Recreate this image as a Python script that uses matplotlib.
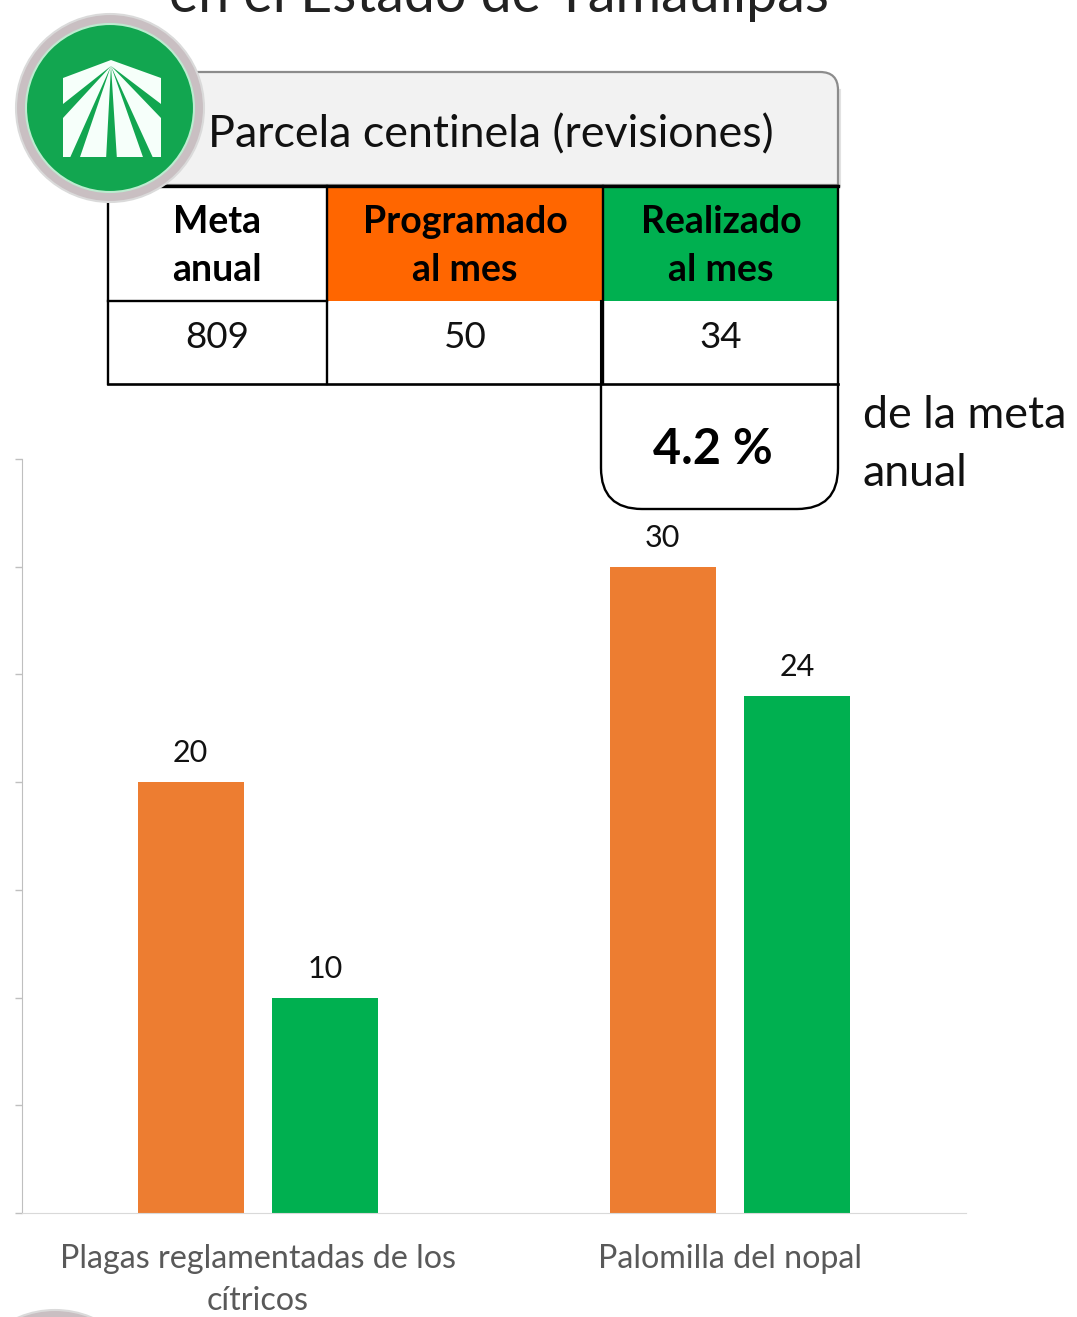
import matplotlib
matplotlib.use("Agg")
import matplotlib.pyplot as plt
from matplotlib.patches import Circle, PathPatch, Polygon, Rectangle
from matplotlib.path import Path

plt.rcParams['font.family'] = ['Lato', 'DejaVu Sans']

W, H = 1077, 1317

categories = ["Plagas reglamentadas de los\ncítricos", "Palomilla del nopal"]
programado = [20, 30]
realizado = [10, 24]
y_ticks = [0, 5, 10, 15, 20, 25, 30, 35]

table_heads = ["Meta\nanual", "Programado\nal mes", "Realizado\nal mes"]
table_values = ["809", "50", "34"]

ORANGE = '#ED7D31'
GREEN = '#00B050'
HEAD_ORANGE = '#FF6600'
GREEN_LOGO = '#12A650'


def axes_px(fig, x0, y0, x1, y1):
    return fig.add_axes([x0 / W, 1 - y1 / H, (x1 - x0) / W, (y1 - y0) / H])


def drawChart(fig):
    ax = axes_px(fig, 22, 459, 966, 1213)
    width = 0.2246
    offset = 0.1425
    for i in range(len(categories)):
        ax.bar(i - offset, programado[i], width, color=ORANGE)
        ax.bar(i + offset, realizado[i], width, color=GREEN)
        ax.text(i - offset, programado[i] + 0.68, str(programado[i]), ha='center', va='bottom',
                fontsize=22, color='#111111')
        ax.text(i + offset, realizado[i] + 0.68, str(realizado[i]), ha='center', va='bottom',
                fontsize=22, color='#111111')
    ax.set_xlim(-0.5, 1.5)
    ax.set_ylim(0, 35)
    ax.set_xticks(range(len(categories)))
    ax.set_xticklabels(categories, fontsize=23.2, color='#595959', linespacing=1.5)
    ax.set_yticks(y_ticks)
    ax.set_yticklabels([])
    ax.tick_params(axis='x', length=0, pad=22)
    ax.tick_params(axis='y', length=5, width=1, color='#BFBFBF')
    for s in ['top', 'right']:
        ax.spines[s].set_visible(False)
    ax.spines['left'].set_color('#BFBFBF')
    ax.spines['bottom'].set_color('#D9D9D9')


def drawLogo(ov, cx, cy):
    ov.add_patch(Circle((cx, cy), 94, fc='#C9BFC2', ec='#DADADA', lw=1.5, zorder=6))
    ov.add_patch(Circle((cx, cy), 84, fc=GREEN_LOGO, ec='#BDEBD0', lw=1.5, zorder=7))
    ov.add_patch(Polygon([(63, 78), (111, 60), (161, 78), (161, 157), (63, 157)],
                         fc='#F6FFFA', ec='none', zorder=8))
    apex = (111, 66)
    rays = [[(63, 104), (63, 118)], [(69, 160), (79, 160)], [(106, 160), (117, 160)],
            [(144, 160), (154, 160)], [(161, 104), (161, 118)]]
    for a, b in rays:
        ov.add_patch(Polygon([apex, a, b], fc=GREEN_LOGO, ec='none', zorder=9))


def drawHeader(ov):
    # title runs off the top of the picture, same as the source slide
    ov.text(499, 12, "en el Estado de Tamaulipas", ha='center', va='baseline', fontsize=40, color='#222222')

    # panel with only top right corner rounded, thin shadow on its right edge
    verts = [(150, 185), (150, 72), (820, 72), (838, 72), (838, 90), (838, 185), (150, 185)]
    codes = [Path.MOVETO, Path.LINETO, Path.LINETO, Path.CURVE3, Path.CURVE3, Path.LINETO, Path.CLOSEPOLY]
    ov.plot([840, 840], [90, 186], color='#E2E2E2', lw=1.5, zorder=1)
    ov.add_patch(PathPatch(Path(verts, codes), fc='#F2F2F2', ec='#8C8C8C', lw=1.6, zorder=2))
    ov.text(491, 135, "Parcela centinela (revisiones)", ha='center', va='center', fontsize=32.2, color='#111111', zorder=3)

    xs = [108, 327, 603, 838]
    y0, y1, y2 = 186, 301, 384
    ov.add_patch(Rectangle((xs[1], y0), xs[2] - xs[1], y1 - y0, fc=HEAD_ORANGE, ec='none', zorder=2))
    ov.add_patch(Rectangle((xs[2], y0), xs[3] - xs[2], y1 - y0, fc=GREEN, ec='none', zorder=2))
    for x in xs:
        ov.plot([x, x], [y0, y2], color='black', lw=1.7, zorder=4)
    ov.plot([601, 601], [y1, y2], color='black', lw=1.5, zorder=4)
    ov.plot([xs[0], xs[3]], [y0, y0], color='black', lw=2.4, zorder=4)
    ov.plot([xs[0], xs[1]], [y1, y1], color='black', lw=1.7, zorder=4)
    ov.plot([xs[0], xs[3]], [y2, y2], color='black', lw=1.9, zorder=4)
    centers = [217, 465, 721]
    for c, head, val in zip(centers, table_heads, table_values):
        ov.text(c, 246, head, ha='center', va='center', fontsize=27, fontweight='bold',
                color='black', linespacing=1.52, zorder=5)
        ov.text(c, 338, val, ha='center', va='center', fontsize=26.5, color='#111111', zorder=5)

    # rounded box under the last column
    verts = [(601, 384), (601, 468), (601, 509), (642, 509), (797, 509), (838, 509), (838, 468), (838, 384)]
    codes = [Path.MOVETO, Path.LINETO, Path.CURVE3, Path.CURVE3, Path.LINETO, Path.CURVE3, Path.CURVE3, Path.LINETO]
    ov.add_patch(PathPatch(Path(verts, codes), fc='none', ec='black', lw=1.7, zorder=4))
    ov.text(713, 450, "4.2 %", ha='center', va='center', fontsize=35, fontweight='bold', color='black', zorder=5)
    ov.text(863, 415, "de la meta", ha='left', va='center', fontsize=32.2, color='#111111', zorder=5)
    ov.text(863, 473, "anual", ha='left', va='center', fontsize=32.2, color='#111111', zorder=5)


def main():
    fig = plt.figure(figsize=(W / 100, H / 100), dpi=100)
    drawChart(fig)

    ov = fig.add_axes([0, 0, 1, 1])
    ov.set_xlim(0, W)
    ov.set_ylim(H, 0)
    ov.axis('off')
    ov.patch.set_alpha(0)
    drawHeader(ov)
    drawLogo(ov, 110, 108)
    # top of the next logo, cut off by the picture edge
    ov.add_patch(Circle((55, 1404), 94, fc='#C9BFC2', ec='#DADADA', lw=1.5, zorder=6))
    ov.add_patch(Circle((55, 1404), 84, fc=GREEN_LOGO, ec='none', zorder=7))

    fig.savefig("out.png", dpi=100)
    plt.close(fig)


if __name__ == "__main__":
    main()
